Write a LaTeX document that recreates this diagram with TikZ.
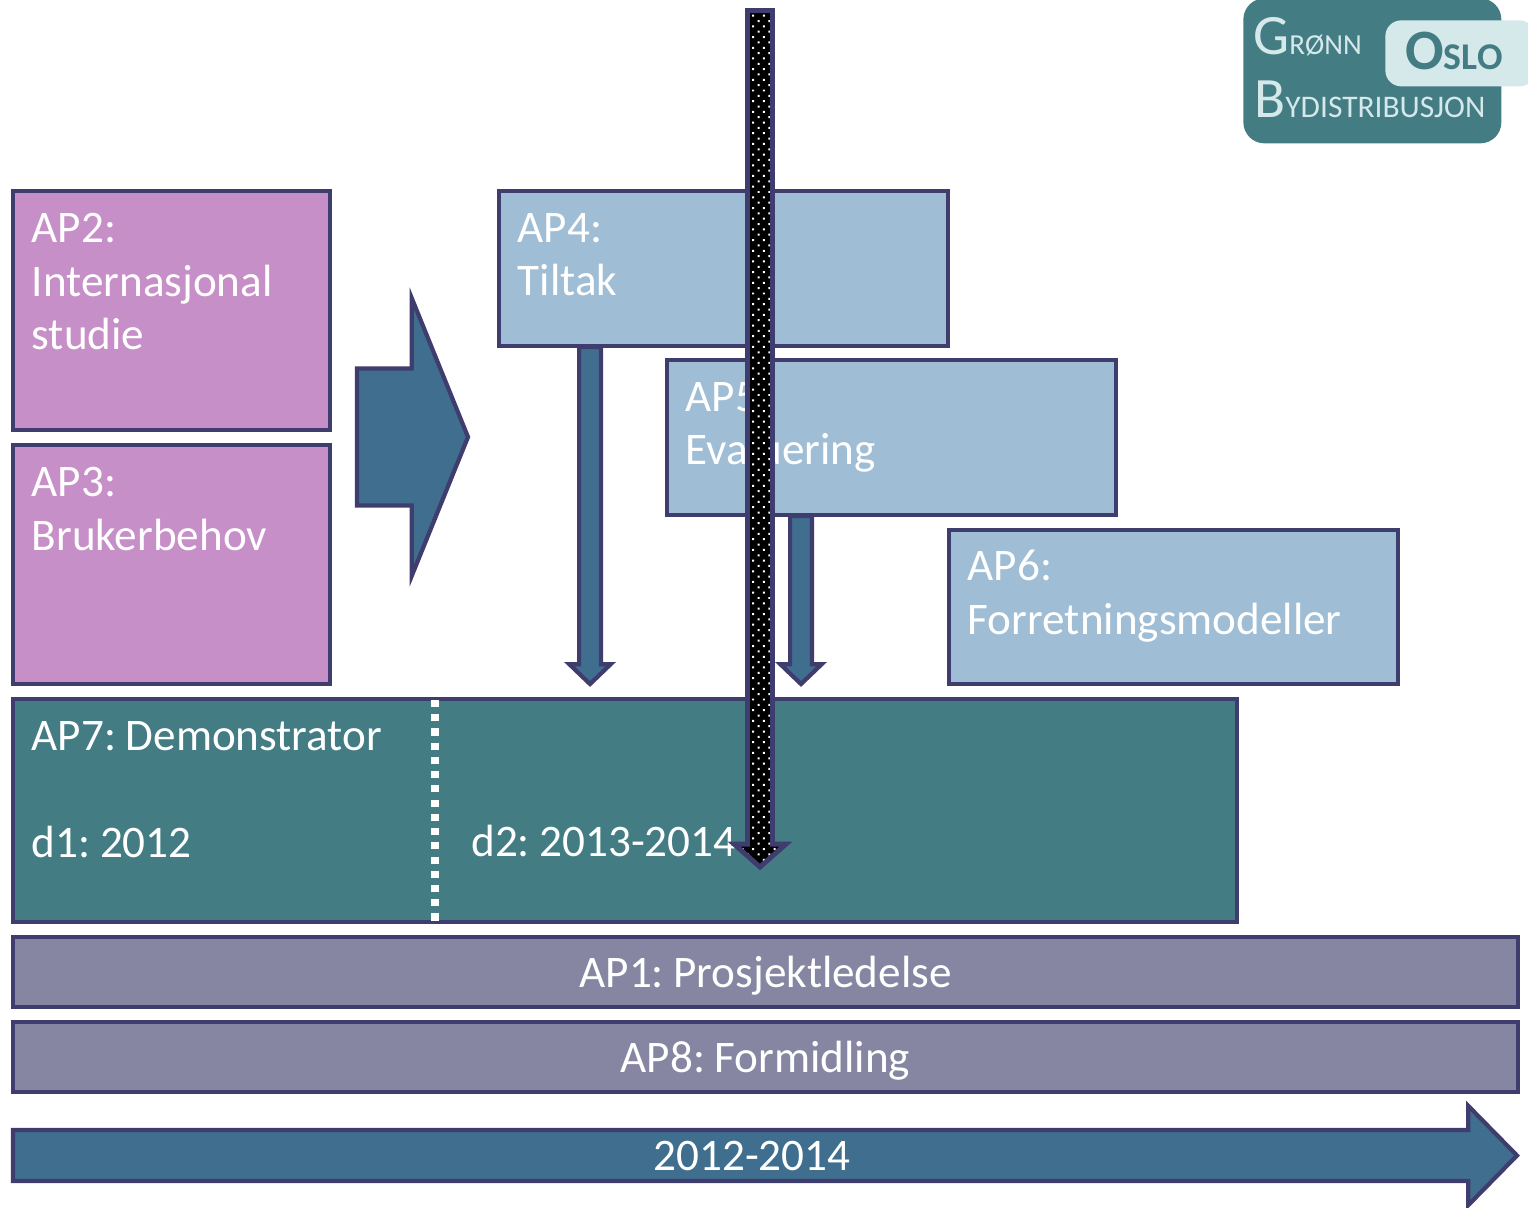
\documentclass[tikz,border=0pt]{standalone}
\usepackage{fontspec}
\setmainfont[WordSpace=0.6]{Carlito}
\usetikzlibrary{calc}
\usetikzlibrary{patterns.meta}

\definecolor{edgeblue}{HTML}{3F3D6E}
\definecolor{pinkbox}{HTML}{C78FC8}
\definecolor{skybox}{HTML}{9FBDD4}
\definecolor{tealbox}{HTML}{447C84}
\definecolor{greybox}{HTML}{8686A3}
\definecolor{arrowblue}{HTML}{406E8E}
\definecolor{logolight}{HTML}{D5E8EA}

\newcommand{\bodyfont}{\fontsize{25.7}{30.4}\selectfont}
\newcommand{\logotext}[3]{{\fontsize{32.5}{36}\selectfont #1}{\fontsize{#3}{36}\selectfont #2}}

\tikzset{
    wpbox/.style 2 args={draw=edgeblue,line width=2.4pt,anchor=north west,outer sep=0pt,inner sep=0pt,
        minimum width=#1*0.02cm,minimum height=#2*0.02cm,text=white,font=\bodyfont},
    boxtext/.style={anchor=north west,align=left,inner sep=0pt,text=white,font=\bodyfont,xshift=10.5pt,yshift=-12.5pt},
    blockarrow/.style n args={3}{to path={
        ($(\tikztotarget)!#3!(\tikztostart)$) coordinate (headbase)
        ($(\tikztostart)!#1!90:(\tikztotarget)$) -- ($(headbase)!#1!90:(\tikztotarget)$)
        -- ($(headbase)!#2!90:(\tikztotarget)$) -- (\tikztotarget)
        -- ($(headbase)!#2!-90:(\tikztotarget)$) -- ($(headbase)!#1!-90:(\tikztotarget)$)
        -- ($(\tikztostart)!#1!-90:(\tikztotarget)$) -- cycle}},
}

\begin{document}
\begin{tikzpicture}[x=0.02cm,y=-0.02cm]

            \useasboundingbox (0,0) rectangle (1528,1207);

            \coordinate (bigtail) at (357,437);
            \coordinate (bigtip) at (468,437);
            \coordinate (tiltakend) at (590,347);
            \coordinate (tiltaktip) at (590,684);
            \coordinate (evalend) at (801,516);
            \coordinate (evaltip) at (801,684);
            \coordinate (yeartail) at (13,1155.5);
            \coordinate (yeartip) at (1517,1155.5);
            \coordinate (dottop) at (435,700);
            \coordinate (dotbottom) at (435,921);
            \coordinate (blacktop) at (760,10.5);
            \coordinate (blacktip) at (760,867);

            % arrows under the boxes
            \draw[blockarrow={39pt}{79pt}{32pt},draw=edgeblue,fill=arrowblue,line width=2.4pt] (bigtail) to (bigtip);
            \draw[blockarrow={6.2pt}{11.8pt}{11.3pt},draw=edgeblue,fill=arrowblue,line width=2.4pt] (tiltakend) to (tiltaktip);
            \draw[blockarrow={6.2pt}{11.8pt}{11.3pt},draw=edgeblue,fill=arrowblue,line width=2.4pt] (evalend) to (evaltip);
            \draw[blockarrow={14.5pt}{28.3pt}{27.8pt},draw=edgeblue,fill=arrowblue,line width=2.4pt] (yeartail) to (yeartip);

            \path   (13,191) node (ap2) [wpbox={317}{239},fill=pinkbox] {}
                    (13,445) node (ap3) [wpbox={317}{239},fill=pinkbox] {}
                    (499,191) node (ap4) [wpbox={449}{155},fill=skybox] {}
                    (667,360) node (ap5) [wpbox={449}{155},fill=skybox] {}
                    (949,530) node (ap6) [wpbox={449}{154},fill=skybox] {}
                    (13,699) node (ap7) [wpbox={1224}{223},fill=tealbox] {}
                    (13,937) node (ap1) [wpbox={1505}{70},fill=greybox,text depth=0pt] {AP1: Prosjektledelse}
                    (13,1022) node (ap8) [wpbox={1505}{70},fill=greybox,text depth=0pt] {AP8: Formidling};

            \node[boxtext] (ap2text) at (ap2.north west) {AP2:\\Internasjonal\\studie};
            \node[boxtext] (ap3text) at (ap3.north west) {AP3:\\Brukerbehov};
            \node[boxtext] (ap4text) at (ap4.north west) {AP4:\\Tiltak};
            \node[boxtext] (ap5text) at (ap5.north west) {AP5:\\Evaluering};
            \node[boxtext,yshift=1.2pt] (ap6text) at (ap6.north west) {AP6:\\Forretningsmodeller};
            \node[boxtext] (ap7text) at (ap7.north west) {AP7: Demonstrator\\[30.4pt]d1: 2012};
            \path (471,856) node (d2text) [anchor=base west,inner sep=0pt,text=white,font=\bodyfont] {d2: 2013-2014};
            \path (752,1170) node (yeartext) [anchor=base,inner sep=0pt,text=white,font=\bodyfont] {2012-2014};

            \draw[white,line width=4pt,dash pattern=on 4pt off 4.1pt] (dottop) -- (dotbottom);

            % logo
            \path   (1243,-2) node (logo) [anchor=north west,fill=tealbox,rounded corners=12pt,inner sep=0pt,minimum width=258*0.02cm,minimum height=145*0.02cm] {}
                    (1385,20) node (oslobox) [anchor=north west,fill=logolight,rounded corners=9pt,inner sep=0pt,minimum width=150*0.02cm,minimum height=66*0.02cm] {}
                    (1253,54) node (gronn) [anchor=base west,inner sep=0pt,text=logolight] {\logotext{G}{RØNN}{16.5}}
                    (1254,117) node (bydist) [anchor=base west,inner sep=0pt,text=logolight] {\logotext{B}{YDISTRIBUSJON}{17.9}}
                    (1405,69) node (oslo) [anchor=base west,inner sep=0pt,text=tealbox,font=\bfseries] {\logotext{O}{SLO}{21.5}};

            \draw[blockarrow={7.1pt}{14.7pt}{13pt},draw=edgeblue,line width=2.8pt,preaction={fill=black},
                preaction={pattern={Dots[angle=45,distance=4.3pt,radius=0.8pt]},pattern color=white}] (blacktop) to (blacktip);

\end{tikzpicture}
\end{document}
